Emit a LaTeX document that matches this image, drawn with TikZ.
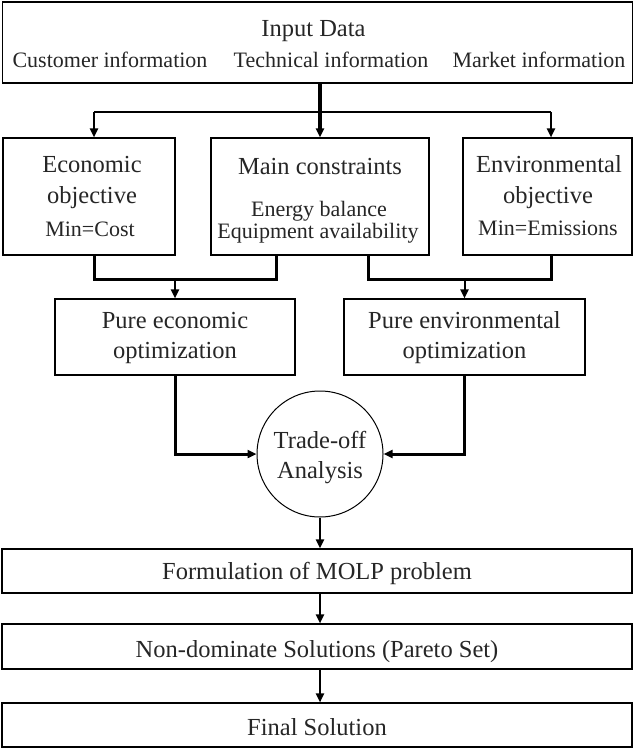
\documentclass[tikz,border=0pt]{standalone}
\usepackage{fontspec}
\setmainfont{Liberation Serif}
\usetikzlibrary{arrows.meta}
\begin{document}
\begin{tikzpicture}[x=1pt,y=-1pt,
  box/.style={draw, line width=1.1pt, inner sep=0pt, fill=white},
  big/.style={font=\fontsize{24.5}{28}\selectfont, inner sep=0pt, anchor=base, text=black!85},
  small/.style={font=\fontsize{22}{25}\selectfont, inner sep=0pt, anchor=base, text=black!85},
  trunk/.style={line width=3.6pt},
  heavy/.style={line width=3pt},
  conn/.style={line width=2pt},
  arr/.style={-{Triangle[length=9pt,width=8pt]}},
]
\useasboundingbox (0,0) rectangle (634,751);
% boxes
\node[box, minimum width=630pt, minimum height=81pt] (top) at (317.5,42.5) {};
\node[box, minimum width=172pt, minimum height=117pt] (econ) at (89,196.5) {};
\node[box, minimum width=218pt, minimum height=117pt] (cons) at (320,196.5) {};
\node[box, minimum width=169pt, minimum height=117pt] (env) at (547.5,196.5) {};
\node[box, minimum width=240pt, minimum height=76pt] (pecon) at (175,337) {};
\node[box, minimum width=241pt, minimum height=76pt] (penv) at (464.5,337) {};
\node[draw, line width=1pt, circle, minimum size=126pt, inner sep=0pt] (ta) at (320,454) {};
\node[box, minimum width=630pt, minimum height=44pt] (molp) at (317,571) {};
\node[box, minimum width=630pt, minimum height=45pt] (pareto) at (317,646.5) {};
\node[box, minimum width=630pt, minimum height=44pt] (final) at (317,725) {};
% texts
\node[big] (t1) at (313.5,37) {Input Data};
\node[small] (t2) at (110,68) {Customer information};
\node[small] (t3) at (331,68) {Technical information};
\node[small] (t4) at (539,68) {Market information};
\node[big] (e1) at (92,173) {Economic};
\node[big] (e2) at (92,204) {objective};
\node[small] (e3) at (90,236) {Min=Cost};
\node[big] (c1) at (320,175) {Main constraints};
\node[small] (c2) at (319,216) {Energy balance};
\node[small] (c3) at (318,238) {Equipment availability};
\node[big] (v1) at (549,173) {Environmental};
\node[big] (v2) at (548,204) {objective};
\node[small] (v3) at (548,235) {Min=Emissions};
\node[big] (p1) at (175,328) {Pure economic};
\node[big] (p2) at (175,358) {optimization};
\node[big] (q1) at (464.5,328) {Pure environmental};
\node[big] (q2) at (464.5,358) {optimization};
\node[big] (a1) at (320,448) {Trade-off};
\node[big] (a2) at (320,478) {Analysis};
\node[big] (f1) at (317,579) {Formulation of MOLP problem};
\node[big] (f2) at (317,657) {Non-dominate Solutions (Pareto Set)};
\node[big] (f3) at (317,735) {Final Solution};
% connectors
\coordinate (jl) at (94,112);
\coordinate (jr) at (551,112);
\draw[conn] (jl) -- (jr);
\draw[conn, arr] (jl) -- (jl |- econ.north);
\draw[conn, arr] (jr) -- (jr |- env.north);
\draw[trunk, arr] (top.south -| cons.north) -- (cons.north);
\coordinate (ml) at (94,279);
\coordinate (mr) at (276,279);
\draw[heavy] (ml |- econ.south) -- (ml) -- (mr) -- (mr |- cons.south);
\draw[conn, arr] (pecon.north |- ml) -- (pecon.north);
\coordinate (nl) at (368,279);
\coordinate (nr) at (551,279);
\draw[heavy] (nl |- cons.south) -- (nl) -- (nr) -- (nr |- env.south);
\draw[conn, arr] (penv.north |- nl) -- (penv.north);
\draw[heavy, arr] (pecon.south) |- (ta.west);
\draw[heavy, arr] (penv.south) |- (ta.east);
\draw[conn, line width=2.5pt, arr] (ta.south) -- (ta.south |- molp.north);
\draw[conn, arr] (ta.south |- molp.south) -- (ta.south |- pareto.north);
\draw[conn, arr] (ta.south |- pareto.south) -- (ta.south |- final.north);
\end{tikzpicture}
\end{document}
